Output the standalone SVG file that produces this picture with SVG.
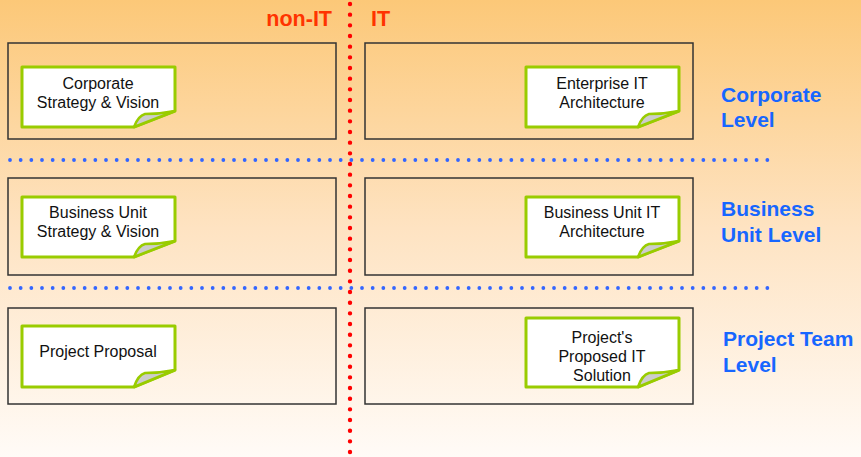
<svg xmlns="http://www.w3.org/2000/svg" width="861" height="457" viewBox="0 0 861 457">
<defs>
<linearGradient id="bg" x1="0" y1="0" x2="0" y2="1">
<stop offset="0" stop-color="#FCC878"/>
<stop offset="0.5" stop-color="#FEE3C2"/>
<stop offset="1" stop-color="#FFFBF7"/>
</linearGradient>
</defs>
<style>
.box{fill:none;stroke:#333;stroke-width:1.5}
.note{fill:#fff;stroke:#99CC00;stroke-width:3;stroke-linejoin:round}
.fold{fill:#CCCCCC;stroke:#99CC00;stroke-width:2.5;stroke-linejoin:round}
.nt{font-family:"Liberation Sans",Arial,sans-serif;font-size:16px;fill:#111;text-anchor:middle}
.lvl{font-family:"Liberation Sans",Arial,sans-serif;font-size:21px;font-weight:bold;fill:#1766FF}
.hd{font-family:"Liberation Sans",Arial,sans-serif;font-size:21.5px;font-weight:bold;fill:#FF3300}
.bdot{stroke:#3366FF;stroke-width:3.8;stroke-linecap:round;stroke-dasharray:0 10.667;fill:none}
.rdot{stroke:#FF0000;stroke-width:4.4;stroke-linecap:round;stroke-dasharray:0 10.667;fill:none}
</style>
<rect x="0" y="0" width="861" height="457" fill="url(#bg)"/>

<g id="boxes">
<rect class="box" x="8" y="43" width="328" height="96"/>
<rect class="box" x="365" y="43" width="328" height="96"/>
<rect class="box" x="8" y="178" width="328" height="97"/>
<rect class="box" x="365" y="178" width="328" height="97"/>
<rect class="box" x="8" y="308" width="328" height="96"/>
<rect class="box" x="365" y="308" width="328" height="96"/>
</g>

<g id="connectors">
<line class="bdot" x1="10" y1="160" x2="768" y2="160"/>
<line class="bdot" x1="10" y1="288" x2="768" y2="288"/>
<line class="rdot" x1="350" y1="4" x2="350" y2="453"/>
</g>

<text class="hd" x="332" y="26" text-anchor="end">non-IT</text>
<text class="hd" x="371" y="26">IT</text>

<g id="n1">
<path class="note" d="M22,67 H175 V111 L134,127 H22 Z"/>
<path class="fold" d="M134,127 Q138,116 145,114 Q160,114 175,111 Z"/>
<text class="nt" x="98" y="89">Corporate</text>
<text class="nt" x="98" y="108">Strategy &amp; Vision</text>
</g>
<g id="n2">
<path class="note" d="M526,67 H679 V111 L638,127 H526 Z"/>
<path class="fold" d="M638,127 Q642,116 649,114 Q664,114 679,111 Z"/>
<text class="nt" x="602" y="89">Enterprise IT</text>
<text class="nt" x="602" y="108">Architecture</text>
</g>
<g id="n3">
<path class="note" d="M22,197 H175 V241 L134,257 H22 Z"/>
<path class="fold" d="M134,257 Q138,246 145,244 Q160,244 175,241 Z"/>
<text class="nt" x="98" y="218">Business Unit</text>
<text class="nt" x="98" y="237">Strategy &amp; Vision</text>
</g>
<g id="n4">
<path class="note" d="M526,197 H679 V241 L638,257 H526 Z"/>
<path class="fold" d="M638,257 Q642,246 649,244 Q664,244 679,241 Z"/>
<text class="nt" x="602" y="218">Business Unit IT</text>
<text class="nt" x="602" y="237">Architecture</text>
</g>
<g id="n5">
<path class="note" d="M22,326 H175 V370 L134,387 H22 Z"/>
<path class="fold" d="M134,387 Q138,375 145,373 Q160,373 175,370 Z"/>
<text class="nt" x="98" y="357">Project Proposal</text>
</g>
<g id="n6">
<path class="note" d="M526,318 H679 V370 L638,387 H526 Z"/>
<path class="fold" d="M638,387 Q642,375 649,373 Q664,373 679,370 Z"/>
<text class="nt" x="602" y="343">Project's</text>
<text class="nt" x="602" y="362">Proposed IT</text>
<text class="nt" x="602" y="381">Solution</text>
</g>

<g id="levels">
<text class="lvl" x="721" y="102">Corporate</text>
<text class="lvl" x="721" y="127">Level</text>
<text class="lvl" x="721" y="216">Business</text>
<text class="lvl" x="721" y="242">Unit Level</text>
<text class="lvl" x="723" y="346">Project Team</text>
<text class="lvl" x="723" y="372">Level</text>
</g>
</svg>
